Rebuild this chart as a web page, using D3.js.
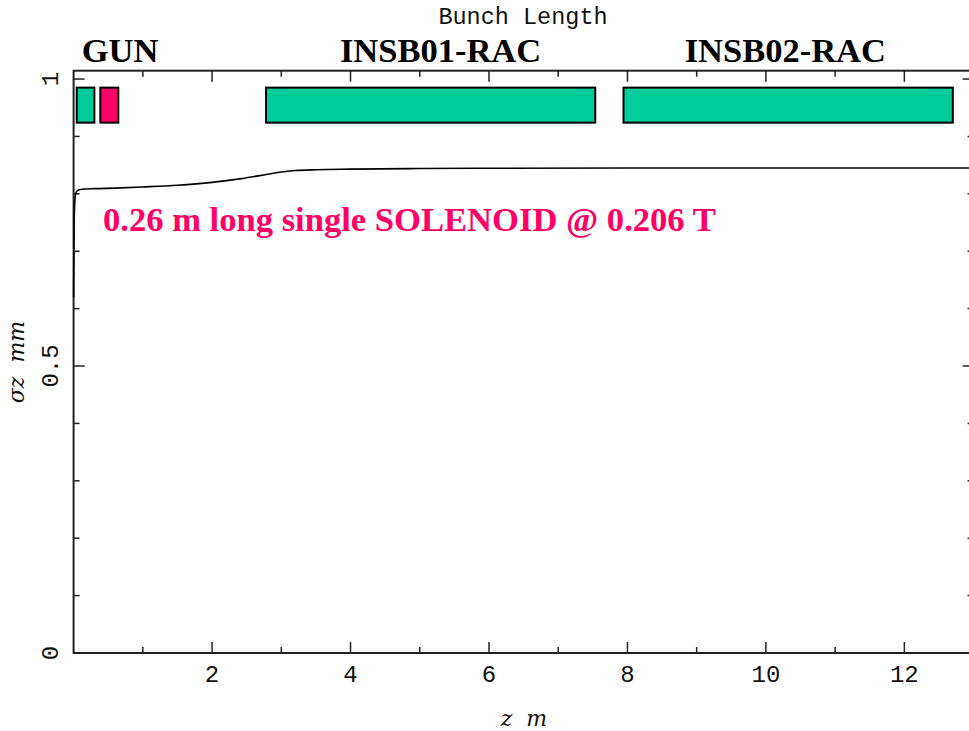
<!DOCTYPE html>
<html>
<head>
<meta charset="utf-8">
<script src="https://cdn.jsdelivr.net/npm/d3@7"></script>
<style>
  html, body { margin: 0; padding: 0; background: #fff; }
  svg { display: block; }
</style>
</head>
<body>
<svg id="chart" width="969" height="731"></svg>
<script>
// Bunch length along the beamline
const zValues     = [0, 0.004, 0.008, 0.015, 0.03, 0.05, 0.08, 0.12, 0.3, 0.6, 1.0, 1.5, 2.0, 2.4, 2.8, 3.0, 3.2, 3.5, 4.0, 5.0, 6.0, 8.0, 10.0, 13.0];
const sigmaValues = [0.62, 0.70, 0.75, 0.78, 0.80, 0.805, 0.807, 0.808, 0.809, 0.810, 0.812, 0.815, 0.820, 0.826, 0.834, 0.838, 0.8405, 0.842, 0.843, 0.844, 0.8445, 0.845, 0.845, 0.845];

// Beamline elements: start / end along z and fill colour
const elementNames  = ["GUN cavity", "SOLENOID", "INSB01-RAC", "INSB02-RAC"];
const elementStart  = [0.045, 0.386, 2.78, 7.943];
const elementEnd    = [0.30, 0.646, 7.535, 12.70];
const elementColors = ["#00cc99", "#ff0066", "#00cc99", "#00cc99"];
const elementSpan   = [0.924, 0.985];

// Section headings above the frame
const sectionLabels = ["GUN", "INSB01-RAC", "INSB02-RAC"];
const sectionCentre = [0.67, 5.3, 10.28];

// Axis ticks
const xMajorTicks = [2, 4, 6, 8, 10, 12];
const xMinorTicks = [1, 3, 5, 7, 9, 11, 13];
const yMajorTicks = [0, 0.5, 1];
const yMinorTicks = [0.1, 0.2, 0.3, 0.4, 0.6, 0.7, 0.8, 0.9];

const titleText = "Bunch Length";
const noteText  = "0.26 m long single SOLENOID @ 0.206 T";

const svg = d3.select("#chart");
const plotLeft = 73.6, plotRight = 973.6, plotTop = 70.7, plotBottom = 653;

const x = d3.scaleLinear().domain([0, 13]).range([plotLeft, plotRight]);
const y = d3.scaleLinear().domain([0, 1.0145]).range([plotBottom, plotTop]);

const axisColor = "#222";
const tickFont = "'Liberation Mono', 'DejaVu Sans Mono', monospace";

// frame
svg.append("rect")
  .attr("x", plotLeft).attr("y", plotTop)
  .attr("width", plotRight - plotLeft).attr("height", plotBottom - plotTop)
  .attr("fill", "none").attr("stroke", axisColor).attr("stroke-width", 2);

// ticks on all four sides, pointing inward
const tickG = svg.append("g").attr("stroke", axisColor).attr("stroke-width", 1.5);
function hTicks(values, len) {
  tickG.selectAll(null).data(values).enter().append("line")
    .attr("x1", d => x(d)).attr("x2", d => x(d))
    .attr("y1", plotBottom).attr("y2", plotBottom - len);
  tickG.selectAll(null).data(values).enter().append("line")
    .attr("x1", d => x(d)).attr("x2", d => x(d))
    .attr("y1", plotTop).attr("y2", plotTop + len);
}
function vTicks(values, len) {
  tickG.selectAll(null).data(values).enter().append("line")
    .attr("x1", plotLeft).attr("x2", plotLeft + len)
    .attr("y1", d => y(d)).attr("y2", d => y(d));
  tickG.selectAll(null).data(values).enter().append("line")
    .attr("x1", plotRight).attr("x2", plotRight - len)
    .attr("y1", d => y(d)).attr("y2", d => y(d));
}
hTicks(xMajorTicks, 11);
hTicks(xMinorTicks, 6);
vTicks(yMajorTicks, 11);
vTicks(yMinorTicks, 6);

// tick labels
svg.append("g").selectAll("text").data(xMajorTicks).enter().append("text")
  .attr("x", d => x(d)).attr("y", 682)
  .attr("text-anchor", "middle")
  .attr("font-family", tickFont).attr("font-size", 24)
  .attr("fill", "#111")
  .text(d => d);

svg.append("g").selectAll("text").data(yMajorTicks).enter().append("text")
  .attr("transform", d => `translate(58,${y(d)}) rotate(-90)`)
  .attr("text-anchor", "middle")
  .attr("font-family", tickFont).attr("font-size", 24)
  .attr("fill", "#111")
  .text(d => d);

// title
svg.append("text")
  .attr("x", 523).attr("y", 24)
  .attr("text-anchor", "middle")
  .attr("font-family", tickFont).attr("font-size", 23.5)
  .attr("fill", "#111")
  .text(titleText);

// axis titles
const italicFont = "'DejaVu Serif', 'Liberation Serif', serif";
svg.append("text")
  .attr("x", 524).attr("y", 726)
  .attr("text-anchor", "middle")
  .attr("font-family", italicFont).attr("font-style", "italic").attr("font-size", 22)
  .attr("fill", "#111")
  .attr("xml:space", "preserve")
  .text("z  m");

svg.append("text")
  .attr("transform", "translate(24,362) rotate(-90)")
  .attr("text-anchor", "middle")
  .attr("font-family", italicFont).attr("font-style", "italic").attr("font-size", 22)
  .attr("fill", "#111")
  .attr("xml:space", "preserve")
  .text("σz  mm");

// beamline elements
svg.append("g").selectAll("rect").data(elementNames).enter().append("rect")
  .attr("x", (d, i) => x(elementStart[i]))
  .attr("width", (d, i) => x(elementEnd[i]) - x(elementStart[i]))
  .attr("y", y(elementSpan[1]))
  .attr("height", y(elementSpan[0]) - y(elementSpan[1]))
  .attr("fill", (d, i) => elementColors[i])
  .attr("stroke", "#000").attr("stroke-width", 2);

// section headings
svg.append("g").selectAll("text").data(sectionLabels).enter().append("text")
  .attr("x", (d, i) => x(sectionCentre[i])).attr("y", 62)
  .attr("text-anchor", "middle")
  .attr("font-family", "'Liberation Serif', 'Times New Roman', serif")
  .attr("font-weight", "bold").attr("font-size", 34.5)
  .attr("fill", "#000")
  .text(d => d);

// bunch length curve
const line = d3.line()
  .x((d, i) => x(zValues[i]))
  .y(d => y(d))
  .curve(d3.curveMonotoneX);
svg.append("path")
  .datum(sigmaValues)
  .attr("d", line)
  .attr("fill", "none")
  .attr("stroke", "#000").attr("stroke-width", 1.6);

// annotation
svg.append("text")
  .attr("x", 103).attr("y", 231)
  .attr("font-family", "'Liberation Serif', 'Times New Roman', serif")
  .attr("font-weight", "bold").attr("font-size", 34.6)
  .attr("fill", "#ff0066")
  .text(noteText);
</script>
</body>
</html>
